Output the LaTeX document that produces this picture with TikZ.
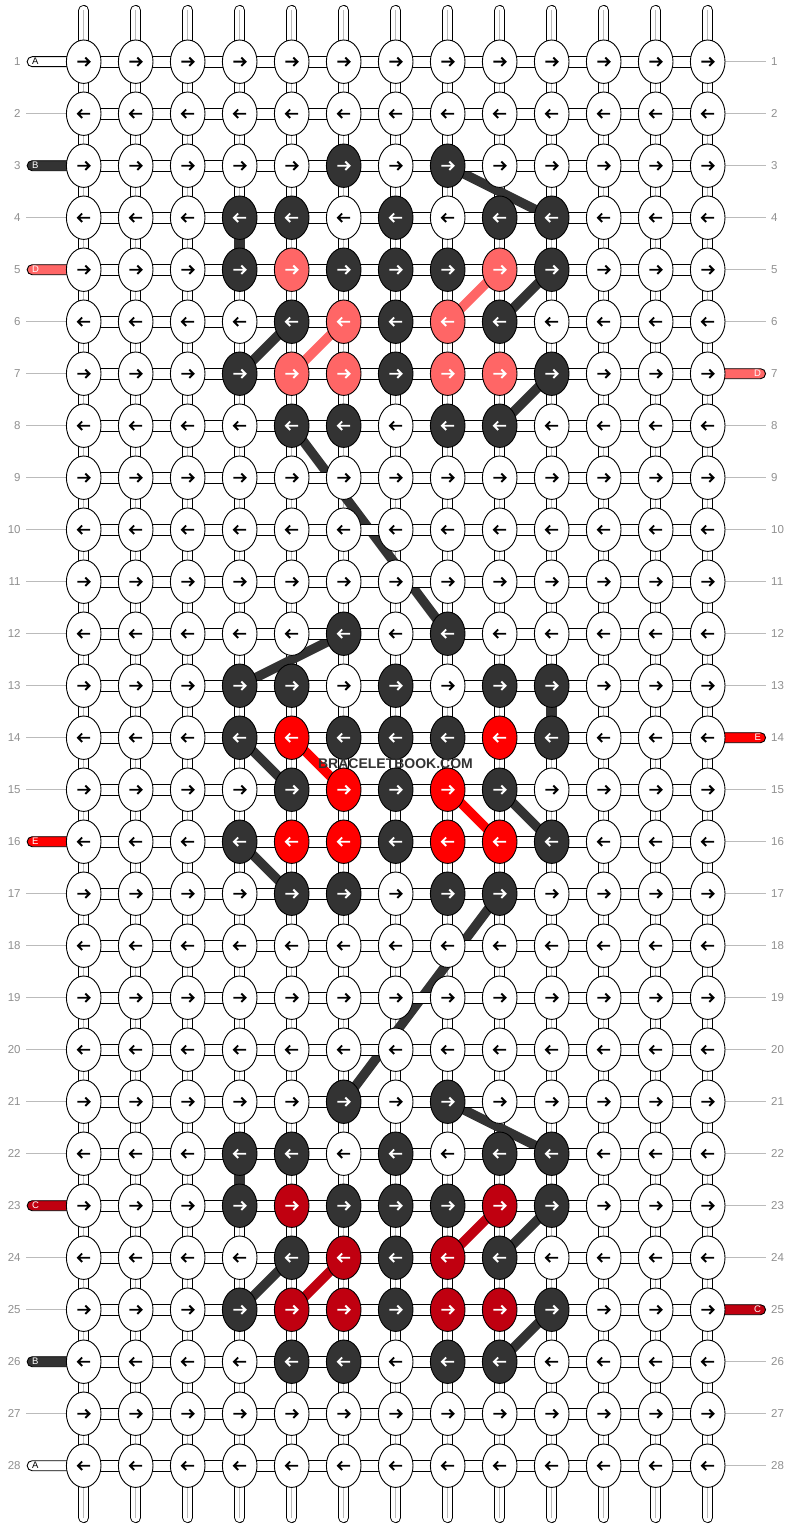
\documentclass[tikz,border=0pt]{standalone}
\usepackage{fontspec}
\setmainfont{Liberation Sans}
\usetikzlibrary{shapes.geometric}
\pgfdeclarelayer{strings}
\pgfdeclarelayer{diag}
\pgfdeclarelayer{hstrip}
\pgfsetlayers{strings,diag,hstrip,main}
\definecolor{dk}{HTML}{333333}
\definecolor{salm}{HTML}{FF6666}
\definecolor{rd}{HTML}{FF0000}
\definecolor{drd}{HTML}{C00010}
\definecolor{numgray}{HTML}{909090}
\definecolor{linegray}{HTML}{BBBBBB}
\newcount\cellidx
\def\defrow#1#2{\gdef\rowidx{#1}\global\cellidx=0 \parsecells#2\relax}
\def\parsecells#1{\ifx#1\relax\else\global\advance\cellidx by 1 \expandafter\xdef\csname kc-\rowidx-\the\cellidx\endcsname{#1}\expandafter\parsecells\fi}
\defrow{3}{WWWWWKWKWWWWW}
\defrow{4}{WWWKKWKWKKWWW}
\defrow{5}{WWWKSKKKSKWWW}
\defrow{6}{WWWWKSKSKWWWW}
\defrow{7}{WWWKSSKSSKWWW}
\defrow{8}{WWWWKKWKKWWWW}
\defrow{12}{WWWWWKWKWWWWW}
\defrow{13}{WWWKKWKWKKWWW}
\defrow{14}{WWWKRKKKRKWWW}
\defrow{15}{WWWWKRKRKWWWW}
\defrow{16}{WWWKRRKRRKWWW}
\defrow{17}{WWWWKKWKKWWWW}
\defrow{21}{WWWWWKWKWWWWW}
\defrow{22}{WWWKKWKWKKWWW}
\defrow{23}{WWWKDKKKDKWWW}
\defrow{24}{WWWWKDKDKWWWW}
\defrow{25}{WWWKDDKDDKWWW}
\defrow{26}{WWWWKKWKKWWWW}
\def\kfillW{white}\def\kfillK{dk}\def\kfillS{salm}\def\kfillR{rd}\def\kfillD{drd}
\def\kacolW{black}\def\kacolK{white}\def\kacolS{white}\def\kacolR{white}\def\kacolD{white}
\tikzset{
  knot/.style={ellipse, draw=black, line width=0.9pt, minimum width=34.6pt, minimum height=43.4pt, inner sep=0pt, outer sep=0pt,
    path picture={\draw[\kacol, line width=1.9pt, line join=miter, shift={(path picture bounding box.center)}] (-6.4*\adir,0) -- (5.6*\adir,0) (1.6*\adir,4.2) -- (5.8*\adir,0) -- (1.6*\adir,-4.2);}},
  diagline/.style={line width=9.5pt, draw=#1},
  vseg/.style={line width=10.8pt, draw=#1},
  numlab/.style={text=numgray, font=\fontsize{11.5}{12}\selectfont, inner sep=0pt},
  gline/.style={draw=linegray, line width=1pt},
  ltab/.style={draw=black, line width=0.9pt, fill=#1, rounded corners=5pt, minimum height=10pt, inner ysep=0pt, inner xsep=5pt, text width=38pt, align=left, anchor=west, font=\fontsize{9.5}{10}\selectfont},
  rtab/.style={draw=black, line width=0.9pt, fill=#1, rounded corners=5pt, minimum height=10pt, inner ysep=0pt, inner xsep=4.5pt, text width=40pt, align=right, anchor=east, font=\fontsize{9.5}{10}\selectfont}
}
\begin{document}
\begin{tikzpicture}[x=1pt,y=-1pt]
\useasboundingbox (0,0) rectangle (792,1528);
% strings
\begin{pgfonlayer}{strings}
\fill[white] (0,0) rectangle (792,1528);
\foreach \c in {1,...,13}{
  \pgfmathsetmacro\xx{83.7+52*(\c-1)}
  \coordinate (st-\c) at (\xx,10.4);
  \coordinate (sb-\c) at (\xx,1517.6);
  \draw[black, line width=10.8pt, line cap=round] (st-\c) -- (sb-\c);
  \draw[white, line width=9pt, line cap=round] (st-\c) -- (sb-\c);
  \draw[linegray, line width=1pt, line cap=round] (st-\c) -- (sb-\c);
}
\end{pgfonlayer}
% knots
\foreach \r in {1,...,28}{
  \foreach \c in {1,...,13}{
    \ifcsname kc-\r-\c\endcsname \edef\kc{\csname kc-\r-\c\endcsname}\else \def\kc{W}\fi
    \edef\kfill{\csname kfill\kc\endcsname}
    \edef\kacol{\csname kacol\kc\endcsname}
    \pgfmathtruncatemacro\rpar{mod(\r,2)}
    \ifnum\rpar=1 \def\adir{1}\else \def\adir{-1}\fi
    \node[knot, fill=\kfill] (k-\r-\c) at ({83.7+52*(\c-1)},{61.7+52*(\r-1)}) {};
  }
}
% horizontal strips, labels, tabs
\begin{pgfonlayer}{hstrip}
\foreach \r in {1,...,28}{
  \draw[fill=white, line width=0.9pt] ([yshift=5.3pt]k-\r-1.center) rectangle ([yshift=-5.3pt]k-\r-13.center);
  \pgfmathsetmacro\yy{61.7+52*(\r-1)}
  \node[numlab, anchor=east] (ln-\r) at (20.8,\yy) {\r};
  \node[numlab, anchor=west] (rn-\r) at (771,\yy) {\r};
}
\foreach \r in {2,4,6,7,8,9,10,11,12,13,14,15,17,18,19,20,21,22,24,25,27}{
  \pgfmathsetmacro\yy{61.7+52*(\r-1)}
  \coordinate (gl-\r) at (26,\yy);
  \draw[gline] (gl-\r) -- (k-\r-1.west);
}
\foreach \r in {1,2,3,4,5,6,8,9,10,11,12,13,15,16,17,18,19,20,21,22,23,24,26,27,28}{
  \pgfmathsetmacro\yy{61.7+52*(\r-1)}
  \coordinate (gr-\r) at (766,\yy);
  \draw[gline] (k-\r-13.east) -- (gr-\r);
}
\foreach \r/\l/\f/\t in {1/A/white/black, 3/B/dk/white, 5/D/salm/white, 16/E/rd/white, 23/C/drd/white, 26/B/dk/white, 28/A/white/black}{
  \pgfmathsetmacro\yy{61.7+52*(\r-1)}
  \node[ltab=\f, text=\t] (tl-\r) at (26.7,\yy) {\l};
}
\foreach \r/\l/\f in {7/D/salm, 14/E/rd, 25/C/drd}{
  \pgfmathsetmacro\yy{61.7+52*(\r-1)}
  \node[rtab=\f, text=white] (tr-\r) at (766,\yy) {\l};
}
\end{pgfonlayer}
% colored strands
\begin{pgfonlayer}{diag}
\draw[vseg=dk] (k-4-4.center) -- (k-5-4.center);
\draw[vseg=dk] (k-13-10.center) -- (k-14-10.center);
\draw[vseg=dk] (k-22-4.center) -- (k-23-4.center);
\draw[diagline=dk] (k-3-8.center) -- (k-4-10.center);
\draw[diagline=dk] (k-7-4.center) -- (k-6-5.center);
\draw[diagline=salm] (k-7-5.center) -- (k-6-6.center);
\draw[diagline=salm] (k-6-8.center) -- (k-5-9.center);
\draw[diagline=dk] (k-6-9.center) -- (k-5-10.center);
\draw[diagline=dk] (k-8-9.center) -- (k-7-10.center);
\draw[diagline=dk] (k-8-5.center) -- (k-12-8.center);
\draw[diagline=dk] (k-12-6.center) -- (k-13-4.center);
\draw[diagline=dk] (k-14-4.center) -- (k-15-5.center);
\draw[diagline=rd] (k-14-5.center) -- (k-15-6.center);
\draw[diagline=rd] (k-15-8.center) -- (k-16-9.center);
\draw[diagline=dk] (k-15-9.center) -- (k-16-10.center);
\draw[diagline=dk] (k-16-4.center) -- (k-17-5.center);
\draw[diagline=dk] (k-17-9.center) -- (k-21-6.center);
\draw[diagline=dk] (k-21-8.center) -- (k-22-10.center);
\draw[diagline=dk] (k-25-4.center) -- (k-24-5.center);
\draw[diagline=drd] (k-25-5.center) -- (k-24-6.center);
\draw[diagline=drd] (k-24-8.center) -- (k-23-9.center);
\draw[diagline=dk] (k-24-9.center) -- (k-23-10.center);
\draw[diagline=dk] (k-26-9.center) -- (k-25-10.center);
\end{pgfonlayer}
% watermark
\node[text=dk, font=\bfseries\fontsize{14}{14}\selectfont, inner sep=0pt] (wm) at (395.5,763.5) {BRACELETBOOK.COM};
\end{tikzpicture}
\end{document}
